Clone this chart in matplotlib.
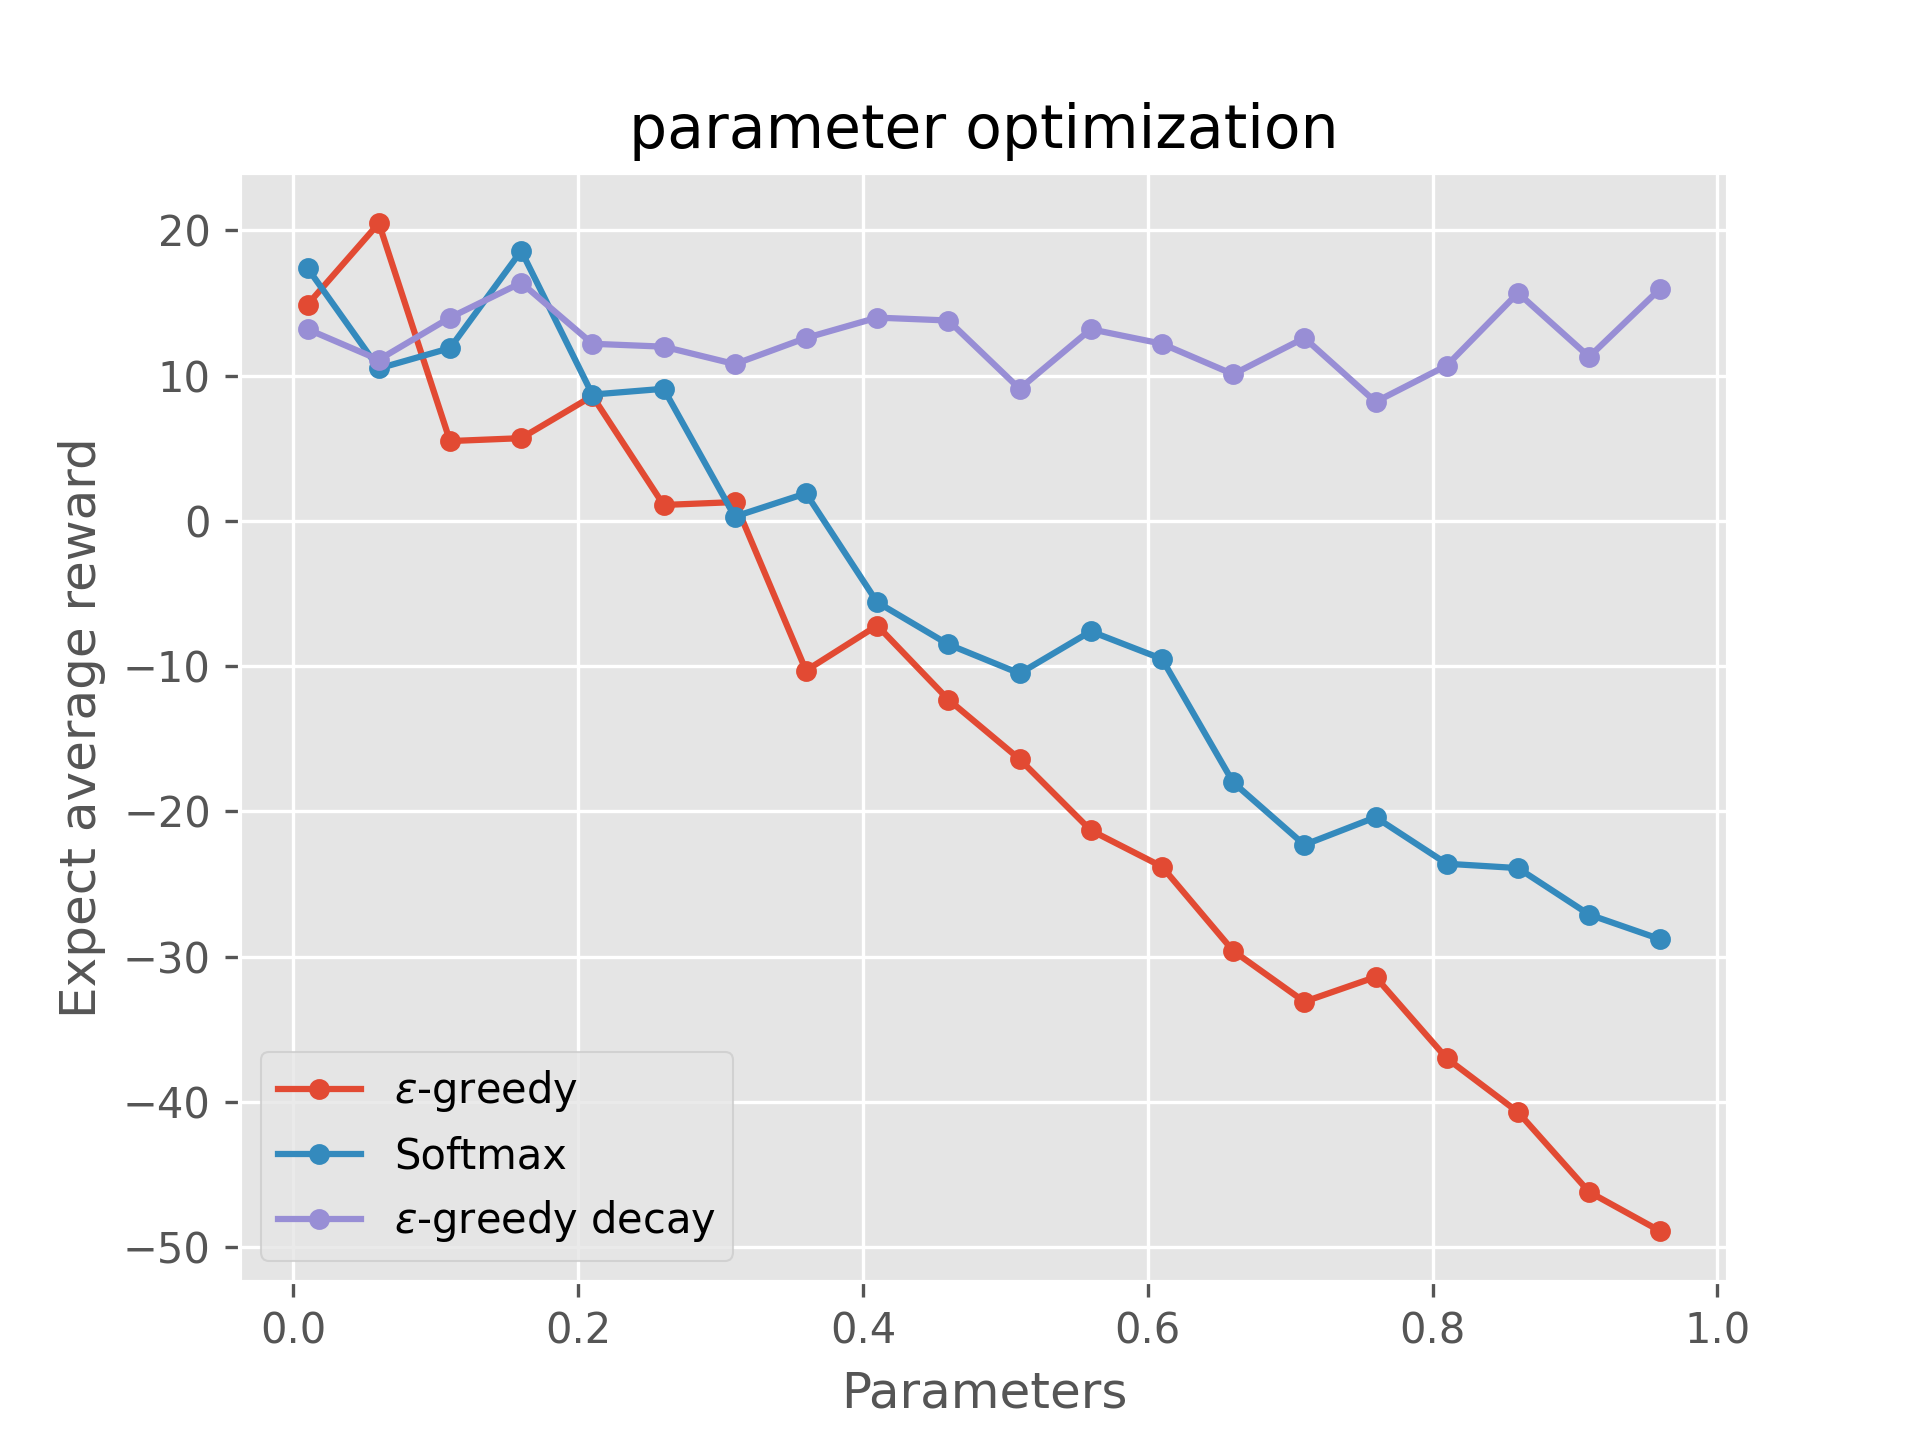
import matplotlib
matplotlib.use('Agg')
import matplotlib.pyplot as plt

plt.style.use('ggplot')

params = [0.01, 0.06, 0.11, 0.16, 0.21, 0.26, 0.31, 0.36, 0.41, 0.46,
          0.51, 0.56, 0.61, 0.66, 0.71, 0.76, 0.81, 0.86, 0.91, 0.96]

eps_greedy = [14.9, 20.5, 5.5, 5.7, 8.6, 1.1, 1.3, -10.3, -7.2, -12.3,
              -16.4, -21.3, -23.8, -29.6, -33.1, -31.4, -37.0, -40.7, -46.2, -48.9]

softmax = [17.4, 10.5, 11.9, 18.6, 8.7, 9.1, 0.3, 1.9, -5.6, -8.5,
           -10.5, -7.6, -9.5, -18.0, -22.3, -20.4, -23.6, -23.9, -27.1, -28.8]

eps_decay = [13.2, 11.1, 14.0, 16.4, 12.2, 12.0, 10.8, 12.6, 14.0, 13.8,
             9.1, 13.2, 12.2, 10.1, 12.6, 8.2, 10.7, 15.7, 11.3, 16.0]

fig, ax = plt.subplots(figsize=(6.4, 4.8), dpi=300)

ax.plot(params, eps_greedy, marker='o', markersize=4, label=r'$\varepsilon$-greedy')
ax.plot(params, softmax, marker='o', markersize=4, label='Softmax')
ax.plot(params, eps_decay, marker='o', markersize=4, label=r'$\varepsilon$-greedy decay')

ax.set_title('parameter optimization')
ax.set_xlabel('Parameters')
ax.set_ylabel('Expect average reward')
ax.legend(loc='lower left')

fig.savefig('out.png', dpi=300)
